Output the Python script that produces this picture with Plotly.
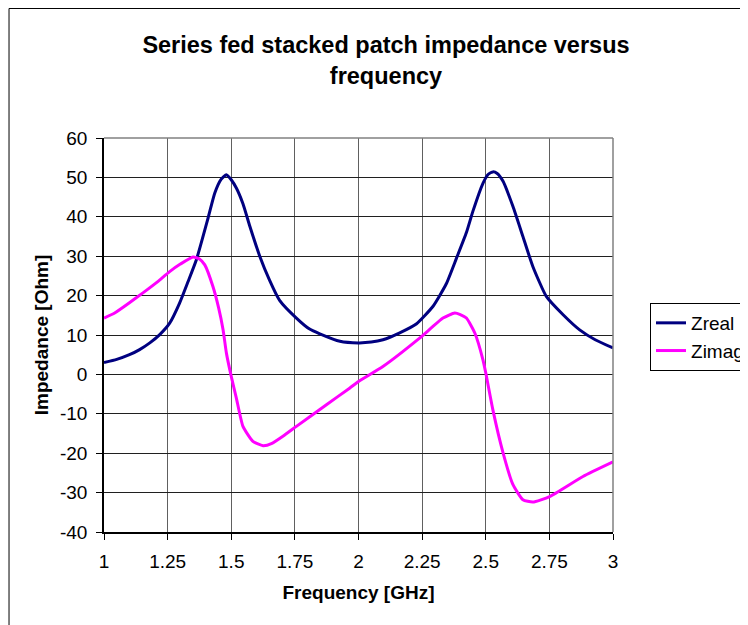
import plotly.graph_objects as go

# Values
freq_real = [1.000, 1.050, 1.100, 1.140, 1.180, 1.219, 1.258, 1.297, 1.330, 1.363,
             1.409, 1.435, 1.460, 1.481, 1.500, 1.520, 1.546, 1.573, 1.612, 1.650,
             1.690, 1.756, 1.808, 1.848, 1.927, 2.000, 2.050, 2.096, 2.160, 2.227,
             2.293, 2.345, 2.385, 2.424, 2.450, 2.489, 2.510, 2.528, 2.545, 2.568,
             2.607, 2.646, 2.685, 2.738, 2.803, 2.869, 2.930, 3.000]
z_real = [3.0, 3.8, 5.0, 6.3, 8.0, 10.1, 13.0, 18.1, 23.5, 29.1,
          39.7, 46.0, 49.5, 50.7, 49.4, 47.3, 43.3, 37.6, 30.0, 24.0,
          18.8, 14.3, 11.5, 10.3, 8.4, 8.0, 8.2, 8.8, 10.5, 12.8,
          17.3, 23.0, 29.5, 36.0, 41.5, 48.5, 50.8, 51.4, 51.0, 49.0,
          42.6, 35.0, 27.4, 19.8, 15.2, 11.3, 8.8, 6.7]

freq_imag = [1.000, 1.042, 1.100, 1.153, 1.210, 1.258, 1.300, 1.350, 1.375, 1.396,
             1.428, 1.450, 1.468, 1.481, 1.500, 1.520, 1.546, 1.585, 1.625, 1.660,
             1.703, 1.756, 1.874, 1.965, 2.000, 2.096, 2.240, 2.332, 2.378, 2.400,
             2.424, 2.457, 2.489, 2.500, 2.528, 2.568, 2.607, 2.646, 2.685, 2.751,
             2.882, 3.000]
z_imag = [14.3, 15.6, 18.2, 20.7, 23.5, 26.1, 28.0, 29.8, 29.3, 27.8,
          22.3, 17.0, 11.3, 5.4, -0.5, -6.0, -13.2, -17.0, -18.1, -17.5,
          -15.7, -13.2, -7.7, -3.5, -1.8, 2.0, 9.2, 14.3, 15.6, 15.2,
          14.3, 10.5, 3.7, 0.4, -9.0, -19.9, -28.0, -31.8, -32.4, -31.0,
          -25.9, -22.2]

x_ticks = [1, 1.25, 1.5, 1.75, 2, 2.25, 2.5, 2.75, 3]
x_tick_labels = ["1", "1.25", "1.5", "1.75", "2", "2.25", "2.5", "2.75", "3"]
y_ticks = [-40, -30, -20, -10, 0, 10, 20, 30, 40, 50, 60]
y_tick_labels = ["-40", "-30", "-20", "-10", "0", "10", "20", "30", "40", "50", "60"]

FONT = "Arial, Liberation Sans, sans-serif"

fig = go.Figure()

fig.add_trace(go.Scatter(
    x=freq_real, y=z_real, mode="lines", name="Zreal",
    line=dict(color="#000080", width=3, shape="spline", smoothing=0.5),
))
fig.add_trace(go.Scatter(
    x=freq_imag, y=z_imag, mode="lines", name="Zimag",
    line=dict(color="#FF00FF", width=3, shape="spline", smoothing=0.5),
))

# outer chart frame (runs off the right and bottom of the picture)
fig.add_shape(type="rect", xref="paper", yref="paper",
              x0=-0.1866, x1=1.6, y0=-0.4, y1=1.3287,
              line=dict(color="black", width=1), layer="below")
# grey top / right border of the plot area
fig.add_shape(type="line", xref="paper", yref="paper", x0=0, x1=1, y0=1, y1=1,
              line=dict(color="#808080", width=1.5))
fig.add_shape(type="line", xref="paper", yref="paper", x0=1, x1=1, y0=0, y1=1,
              line=dict(color="#808080", width=1.5))

# page body adds an 8px offset, so the figure is 740x617
fig.update_layout(
    width=740, height=617,
    paper_bgcolor="white", plot_bgcolor="white",
    font=dict(family=FONT, color="black", size=19),
    title=dict(
        text="<b>Series fed stacked patch impedance versus<br>frequency</b>",
        font=dict(size=23.5, family=FONT, color="black"),
        x=0.554, xref="paper", xanchor="center",
        y=1 - 45 / 617, yref="container", yanchor="top",
    ),
    margin=dict(l=96, r=135, t=130, b=93),
    xaxis=dict(
        range=[1, 3], tickmode="array", tickvals=x_ticks, ticktext=x_tick_labels,
        ticks="outside", ticklen=6, tickcolor="black", ticklabelstandoff=5,
        showline=True, linecolor="black", linewidth=1.5,
        showgrid=True, gridcolor="#606060", gridwidth=1,
        zeroline=False,
        title=dict(text="<b>Frequency [GHz]</b>", font=dict(size=19), standoff=15),
    ),
    yaxis=dict(
        range=[-40, 60], tickmode="array", tickvals=y_ticks, ticktext=y_tick_labels,
        ticks="outside", ticklen=6, tickcolor="black", ticklabelstandoff=5,
        showline=True, linecolor="black", linewidth=1.5,
        showgrid=True, gridcolor="#202020", gridwidth=1,
        zeroline=False,
        title=dict(text="<b>Impedance [Ohm]</b>", font=dict(size=19), standoff=6),
    ),
    legend=dict(
        xref="container", yref="container",
        x=0.8676, y=0.5219, xanchor="left", yanchor="top",
        bordercolor="black", borderwidth=1, bgcolor="white",
        font=dict(size=19), tracegroupgap=0,
    ),
    showlegend=True,
)

fig.write_html("out.html")
